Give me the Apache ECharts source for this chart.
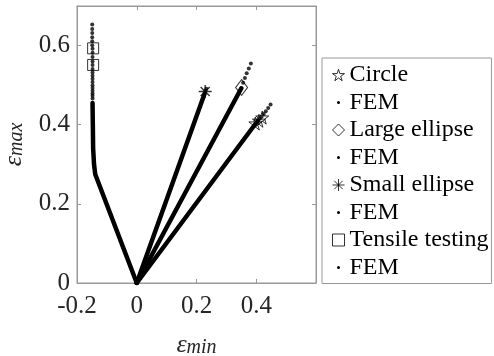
<!DOCTYPE html>
<html>
<head>
<meta charset="utf-8">
<script src="https://cdn.jsdelivr.net/npm/echarts@6/dist/echarts.min.js"></script>
<style>
html,body{margin:0;padding:0;background:#fff}
#chart{width:494px;height:356px}
</style>
</head>
<body>
<div id="chart"></div>
<script>
// measured points (markers)
var circlePts = [[0.397, 0.403], [0.409, 0.410], [0.420, 0.418]];
var largeEllipsePts = [[0.351, 0.494]];
var smallEllipsePts = [[0.229, 0.484]];
var tensilePts = [[-0.146, 0.593], [-0.146, 0.551]];

// FEM curves: dense part (reads as a solid stroke) + sparse dots at the tail
var circleFemLine = [[0, 0], [0.405, 0.410]];
var circleFemDots = [[0.412, 0.415], [0.418, 0.420], [0.425, 0.427], [0.432, 0.434], [0.440, 0.442], [0.448, 0.451]];
var largeFemLine = [[0, 0], [0.350, 0.492]];
var largeFemDots = [[0.356, 0.506], [0.362, 0.518], [0.368, 0.530], [0.375, 0.542], [0.382, 0.555]];
var smallFemLine = [[0, 0], [0.227, 0.478]];
var smallFemDots = [[0.230, 0.485], [0.233, 0.491]];
var tensileFemLine = [[0, 0], [-0.139, 0.275], [-0.143, 0.300], [-0.146, 0.340], [-0.147, 0.400], [-0.148, 0.455]];
var tensileFemDots = [[-0.148, 0.466], [-0.148, 0.473], [-0.148, 0.479], [-0.148, 0.486], [-0.148, 0.493], [-0.148, 0.500],
  [-0.148, 0.508], [-0.148, 0.516], [-0.148, 0.524], [-0.148, 0.532], [-0.148, 0.541], [-0.148, 0.551],
  [-0.148, 0.560], [-0.148, 0.571], [-0.148, 0.582], [-0.148, 0.592], [-0.149, 0.601], [-0.149, 0.611],
  [-0.149, 0.621], [-0.149, 0.632], [-0.149, 0.642], [-0.149, 0.653]];

var xTicks = { min: -0.2, max: 0.6, interval: 0.2 };
var yTicks = { min: 0, max: 0.7, interval: 0.2 };

var serif = 'Liberation Serif';
var axisGray = '#999999';

var starPath = 'path://M12,1L14.6,9.2L23.4,9.2L16.3,14.4L19,22.8L12,17.6L5,22.8L7.7,14.4L0.6,9.2L9.4,9.2Z';
var astPath = 'path://M0,6L12,6M6,0L6,12M1.8,1.8L10.2,10.2M10.2,1.8L1.8,10.2';
var dotPath = 'path://M0,0M12,12M4.5,6a1.5,1.5 0 1,0 3,0a1.5,1.5 0 1,0 -3,0Z';

var hollow = { color: 'rgba(0,0,0,0)', borderColor: '#000', borderWidth: 1 };

function femDots(name, data) {
  return { name: name, type: 'scatter', data: data, symbol: 'circle', symbolSize: 4,
    itemStyle: { color: '#000' }, z: 3 };
}
function femLine(name, data) {
  return { name: name, type: 'line', data: data, showSymbol: false, symbol: 'none',
    lineStyle: { color: '#000', width: 4.5, cap: 'round', join: 'round' }, itemStyle: { color: '#000' }, z: 3 };
}

var nameRich = {
  e: { fontFamily: serif, fontStyle: 'italic', fontSize: 26, lineHeight: 30, verticalAlign: 'bottom' },
  s: { fontFamily: serif, fontStyle: 'italic', fontSize: 20, lineHeight: 22, verticalAlign: 'bottom' }
};

var chart = echarts.init(document.getElementById('chart'));
chart.setOption({
  animation: false,
  grid: { left: 77, top: 6, right: 178, bottom: 73, containLabel: false, outerBoundsMode: 'none',
    show: true, borderColor: axisGray, borderWidth: 1 },
  xAxis: [{
    type: 'value', min: xTicks.min, max: xTicks.max, interval: xTicks.interval,
    splitLine: { show: false },
    axisLine: { show: true, onZero: false, lineStyle: { color: axisGray } },
    axisTick: { inside: true, length: 4, lineStyle: { color: axisGray } },
    axisLabel: { showMaxLabel: false, margin: 11, color: '#262626', fontFamily: serif, fontSize: 25 },
    name: '{e|ε}{s|min}', nameLocation: 'middle', nameGap: 45,
    nameTextStyle: { color: '#262626', rich: nameRich }
  }, {
    type: 'value', position: 'top', min: xTicks.min, max: xTicks.max, interval: xTicks.interval,
    splitLine: { show: false }, axisLabel: { show: false },
    axisLine: { show: true, onZero: false, lineStyle: { color: axisGray } },
    axisTick: { inside: true, length: 4, lineStyle: { color: axisGray } }
  }],
  yAxis: [{
    type: 'value', min: yTicks.min, max: yTicks.max, interval: yTicks.interval,
    splitLine: { show: false },
    axisLine: { show: true, onZero: false, lineStyle: { color: axisGray } },
    axisTick: { inside: true, length: 4, lineStyle: { color: axisGray } },
    axisLabel: { showMaxLabel: false, margin: 7, color: '#262626', fontFamily: serif, fontSize: 25 },
    name: '{e|ε}{s|max}', nameLocation: 'middle', nameGap: 50, nameRotate: 90,
    nameTextStyle: { color: '#262626', rich: nameRich }
  }, {
    type: 'value', position: 'right', min: yTicks.min, max: yTicks.max, interval: yTicks.interval,
    splitLine: { show: false }, axisLabel: { show: false },
    axisLine: { show: true, onZero: false, lineStyle: { color: axisGray } },
    axisTick: { inside: true, length: 4, lineStyle: { color: axisGray } }
  }],
  legend: {
    orient: 'vertical', left: 322, top: 58,
    padding: [5, 3, 4, 10], itemGap: 3.5, itemWidth: 12, itemHeight: 12,
    borderColor: axisGray, borderWidth: 1, backgroundColor: '#fff',
    selectedMode: false,
    textStyle: { color: '#000', fontFamily: serif, fontSize: 24 },
    formatter: function (name) { return name.indexOf('FEM') === 0 ? 'FEM' : name; },
    data: [
      { name: 'Circle', icon: starPath, itemStyle: hollow },
      { name: 'FEM circle', icon: dotPath, itemStyle: { color: '#000' } },
      { name: 'Large ellipse', icon: 'diamond', itemStyle: hollow },
      { name: 'FEM large', icon: dotPath, itemStyle: { color: '#000' } },
      { name: 'Small ellipse', icon: astPath, itemStyle: hollow },
      { name: 'FEM small', icon: dotPath, itemStyle: { color: '#000' } },
      { name: 'Tensile testing', icon: 'rect', itemStyle: hollow },
      { name: 'FEM tensile', icon: dotPath, itemStyle: { color: '#000' } }
    ]
  },
  series: [
    femLine('FEM circle', circleFemLine), femDots('FEM circle', circleFemDots),
    femLine('FEM large', largeFemLine), femDots('FEM large', largeFemDots),
    femLine('FEM small', smallFemLine), femDots('FEM small', smallFemDots),
    femLine('FEM tensile', tensileFemLine), femDots('FEM tensile', tensileFemDots),
    { name: 'Circle', type: 'scatter', data: circlePts, symbol: starPath, symbolSize: 13, itemStyle: hollow, z: 4 },
    { name: 'Large ellipse', type: 'scatter', data: largeEllipsePts, symbol: 'diamond', symbolSize: [12, 16], itemStyle: hollow, z: 4 },
    { name: 'Small ellipse', type: 'scatter', data: smallEllipsePts, symbol: astPath, symbolSize: 13, itemStyle: { color: 'rgba(0,0,0,0)', borderColor: '#000', borderWidth: 1.4 }, z: 4 },
    { name: 'Tensile testing', type: 'scatter', data: tensilePts, symbol: 'rect', symbolSize: 11, itemStyle: hollow, z: 4 }
  ]
});
</script>
</body>
</html>
